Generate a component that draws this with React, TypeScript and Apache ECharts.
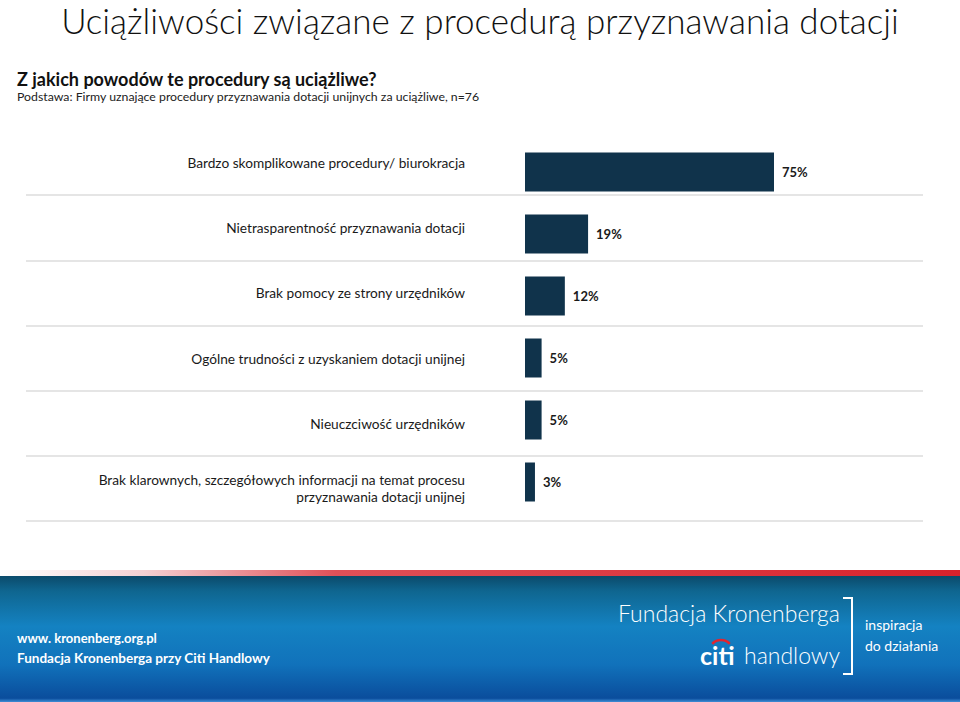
import React, { useEffect, useRef } from "react";
import * as echarts from "echarts";

const categories: string[] = [
  "Bardzo skomplikowane procedury/ biurokracja",
  "Nietrasparentność przyznawania dotacji",
  "Brak pomocy ze strony urzędników",
  "Ogólne trudności z uzyskaniem dotacji unijnej",
  "Nieuczciwość urzędników",
  "Brak klarownych, szczegółowych informacji na temat procesu\nprzyznawania dotacji unijnej",
];
const values: number[] = [75, 19, 12, 5, 5, 3];

const titleText = "Uciążliwości związane z procedurą przyznawania dotacji";
const questionText = "Z jakich powodów te procedury są uciążliwe?";
const baseText = "Podstawa: Firmy uznające procedury przyznawania dotacji unijnych za uciążliwe, n=76";
const footerLeft = ["www. kronenberg.org.pl", "Fundacja Kronenberga przy Citi Handlowy"];
const footerRight = ["Fundacja Kronenberga", "citi", "handlowy", "inspiracja", "do działania"];

const FONT = "Lato, 'Open Sans', 'Liberation Sans', sans-serif";
const BAR = "#10334b";

export default function App() {
  const ref = useRef<HTMLDivElement>(null);
  useEffect(() => {
    document.body.style.margin = "0";
    const chart = echarts.init(ref.current!, null, { renderer: "svg" });
    const option: any = {
      animation: false,
      backgroundColor: "#ffffff",
      textStyle: { fontFamily: FONT },
      title: [
        {
          text: titleText,
          left: "center",
          top: 2,
          padding: 0,
          textStyle: { fontFamily: FONT, fontSize: 35, lineHeight: 36, fontWeight: 300, color: "#111" },
        },
        {
          text: questionText,
          left: 17,
          top: 70,
          padding: 0,
          textStyle: { fontFamily: FONT, fontSize: 18, fontWeight: "bold", color: "#111" },
        },
        {
          text: baseText,
          left: 17,
          top: 90,
          padding: 0,
          textStyle: { fontFamily: FONT, fontSize: 12.3, fontWeight: "normal", color: "#222" },
        },
      ],
      grid: [
        { left: 525, top: 130, width: 332, height: 391 },
        { left: 525, top: 141, width: 332, height: 372 },
        { left: 26, top: 130, width: 897, height: 391 },
      ],
      xAxis: [
        { gridIndex: 0, type: "value", min: 0, max: 100, show: false },
        { gridIndex: 1, type: "value", min: 0, max: 100, show: false },
        { gridIndex: 2, type: "value", min: 0, max: 100, show: false },
      ],
      yAxis: [
        {
          gridIndex: 0,
          type: "category",
          inverse: true,
          data: categories,
          axisLine: { show: false },
          axisTick: { show: false },
          splitLine: { show: false },
          axisLabel: {
            margin: 60,
            fontFamily: FONT,
            fontSize: 13.7,
            lineHeight: 17,
            color: "#1a1a1a",
            align: "right",
          },
        },
        {
          gridIndex: 1,
          type: "category",
          inverse: true,
          data: categories,
          axisLine: { show: false },
          axisTick: { show: false },
          axisLabel: { show: false },
          splitLine: { show: false },
        },
        {
          gridIndex: 2,
          type: "category",
          inverse: true,
          data: categories,
          axisLine: { show: false },
          axisTick: { show: false },
          axisLabel: { show: false },
          splitLine: {
            show: true,
            showMinLine: false,
            lineStyle: { color: "#dcdcdc", width: 1.5 },
          },
        },
      ],
      series: [
        {
          type: "bar",
          xAxisIndex: 1,
          yAxisIndex: 1,
          data: values,
          barWidth: 39,
          itemStyle: { color: BAR },
          label: {
            show: true,
            position: "right",
            distance: 8,
            formatter: "{c}%",
            fontFamily: FONT,
            fontSize: 13,
            fontWeight: "bold",
            color: "#1a1a1a",
          },
        },
      ],
      graphic: [
        {
          type: "rect",
          shape: { x: 0, y: 570, width: 960, height: 7 },
          style: {
            fill: {
              type: "linear", x: 0, y: 0, x2: 1, y2: 0,
              colorStops: [
                { offset: 0, color: "#ffffff" },
                { offset: 0.15, color: "#f4d0d2" },
                { offset: 0.35, color: "#e05058" },
                { offset: 1, color: "#d8222c" },
              ],
            },
          },
          silent: true,
        },
        {
          type: "rect",
          shape: { x: 0, y: 576, width: 960, height: 126 },
          style: {
            fill: {
              type: "linear", x: 0, y: 0, x2: 0, y2: 1,
              colorStops: [
                { offset: 0, color: "#0b4a6a" },
                { offset: 0.12, color: "#0f6690" },
                { offset: 0.4, color: "#1482c2" },
                { offset: 0.7, color: "#1172bb" },
                { offset: 0.97, color: "#0a4d9c" },
                { offset: 1, color: "#3f8ed6" },
              ],
            },
          },
          silent: true,
        },
        {
          type: "text",
          x: 17, y: 638,
          style: { text: footerLeft[0], fill: "#ffffff", font: `bold 13px ${FONT}`, verticalAlign: "middle" },
        },
        {
          type: "text",
          x: 17, y: 658,
          style: { text: footerLeft[1], fill: "#ffffff", font: `bold 13.5px ${FONT}`, verticalAlign: "middle" },
        },
        {
          type: "text",
          x: 840, y: 613,
          style: { text: footerRight[0], fill: "#ffffff", font: `300 23px ${FONT}`, align: "right", verticalAlign: "middle" },
        },
        {
          type: "text",
          x: 700, y: 655,
          style: { text: footerRight[1], fill: "#ffffff", font: `bold 25px ${FONT}`, verticalAlign: "middle" },
        },
        {
          type: "text",
          x: 840, y: 655,
          style: { text: footerRight[2], fill: "#ffffff", font: `300 23px ${FONT}`, align: "right", verticalAlign: "middle" },
        },
        {
          type: "arc",
          shape: { cx: 721, cy: 652, r: 12, startAngle: -Math.PI + 0.75, endAngle: -0.75 },
          style: { stroke: "#e0252f", lineWidth: 2.5, fill: "none" },
        },
        {
          type: "polyline",
          shape: { points: [[843, 598], [852, 598], [852, 674], [843, 674]] },
          style: { stroke: "#ffffff", lineWidth: 2, fill: "none" },
        },
        {
          type: "text",
          x: 865, y: 624,
          style: { text: footerRight[3], fill: "#ffffff", font: `14px ${FONT}`, verticalAlign: "middle" },
        },
        {
          type: "text",
          x: 865, y: 645,
          style: { text: footerRight[4], fill: "#ffffff", font: `14px ${FONT}`, verticalAlign: "middle" },
        },
      ],
    };
    chart.setOption(option);
    return () => chart.dispose();
  }, []);
  return <div ref={ref} style={{ width: 960, height: 702 }} />;
}
